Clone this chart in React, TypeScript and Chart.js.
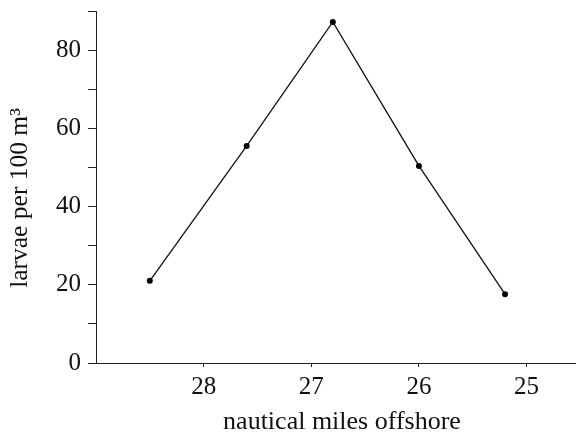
import React, { useEffect, useRef } from "react";
import { Chart, registerables } from "chart.js";

Chart.register(...registerables);

const milesOffshore = [28.5, 27.6, 26.8, 26.0, 25.2];
const larvaeDensity = [21, 55.5, 87.2, 50.4, 17.6];
const xTickValues = [25, 26, 27, 28];
const yTickValues = [0, 10, 20, 30, 40, 50, 60, 70, 80, 90];
const yLabelValues = [0, 20, 40, 60, 80];
const xAxisTitle = "nautical miles offshore";
const yAxisTitle = "larvae per 100 m³";

const FONT = '"Liberation Serif", "Times New Roman", serif';

const titlePlugin = {
  id: "axisTitles",
  afterDraw(chart: any) {
    const ctx = chart.ctx;
    ctx.save();
    ctx.fillStyle = "#111";
    ctx.textAlign = "center";
    ctx.textBaseline = "middle";
    ctx.font = `26px ${FONT}`;
    ctx.fillText(xAxisTitle, 342, 422);
    ctx.font = `25.5px ${FONT}`;
    ctx.translate(20, 198);
    ctx.rotate(-Math.PI / 2);
    ctx.fillText(yAxisTitle, 0, 0);
    ctx.restore();
  },
};

export default function App() {
  const canvasRef = useRef<HTMLCanvasElement | null>(null);

  useEffect(() => {
    if (!canvasRef.current) return;
    const chart = new Chart(canvasRef.current, {
      type: "line",
      data: {
        datasets: [
          {
            data: milesOffshore.map((x, i) => ({ x, y: larvaeDensity[i] })),
            borderColor: "#111",
            borderWidth: 1.3,
            pointRadius: 3,
            pointBackgroundColor: "#000",
            pointBorderWidth: 0,
            tension: 0,
            fill: false,
          },
        ],
      },
      options: {
        animation: false,
        responsive: false,
        layout: { padding: { top: 11, right: 2, left: 0, bottom: 0 } },
        plugins: { legend: { display: false }, tooltip: { enabled: false } },
        scales: {
          x: {
            type: "linear",
            reverse: true,
            min: 24.55,
            max: 29,
            afterBuildTicks: (s: any) => {
              s.ticks = xTickValues.map((v) => ({ value: v }));
            },
            afterFit: (s: any) => {
              s.height = 74;
              s.paddingLeft = 0;
              s.paddingRight = 0;
            },
            grid: { drawOnChartArea: false, tickLength: 4, color: "#222" },
            border: { color: "#222", width: 1 },
            ticks: {
              color: "#111",
              font: { family: FONT, size: 25 },
              padding: 5,
              autoSkip: false,
              maxRotation: 0,
              callback: (v: any) => String(v),
            },
          },
          y: {
            type: "linear",
            min: 0,
            max: 90,
            afterBuildTicks: (s: any) => {
              s.ticks = yTickValues.map((v) => ({ value: v }));
            },
            afterFit: (s: any) => {
              s.width = 96;
              s.paddingTop = 0;
              s.paddingBottom = 0;
            },
            grid: { drawOnChartArea: false, tickLength: 8, color: "#222" },
            border: { color: "#222", width: 1 },
            ticks: {
              color: "#111",
              font: { family: FONT, size: 25 },
              padding: 7,
              autoSkip: false,
              callback: (v: any) => (yLabelValues.includes(Number(v)) ? String(v) : ""),
            },
          },
        },
      },
      plugins: [titlePlugin],
    } as any);
    return () => chart.destroy();
  }, []);

  return (
    <div style={{ position: "absolute", left: 0, top: 0, width: 579, height: 437, background: "#fff" }}>
      <canvas ref={canvasRef} width={579} height={437} style={{ width: 579, height: 437 }} />
    </div>
  );
}
